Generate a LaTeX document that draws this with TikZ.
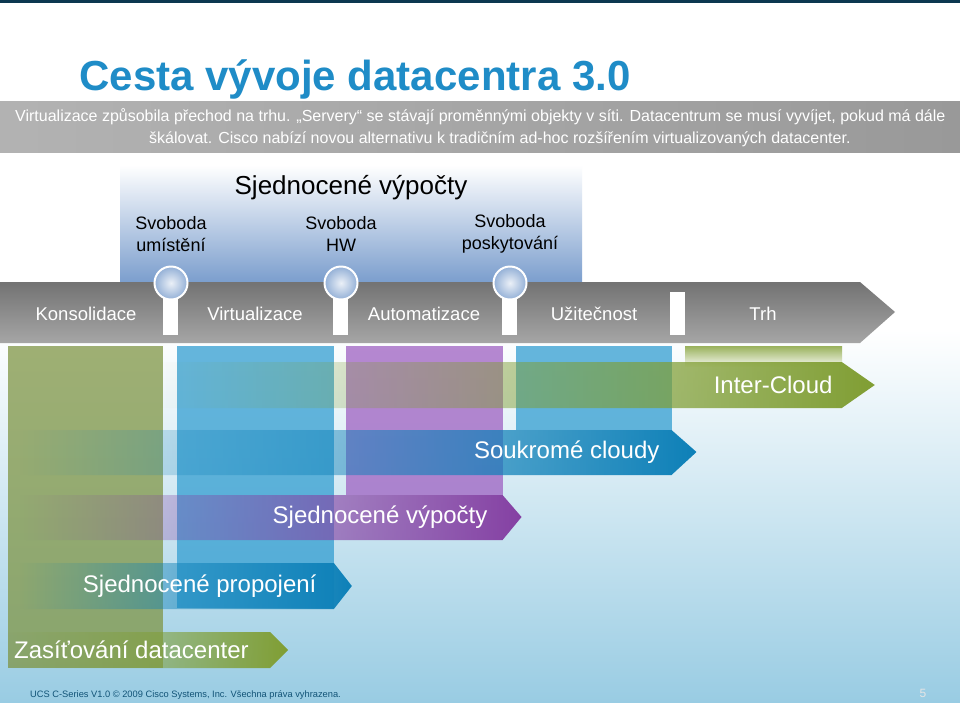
\documentclass[tikz,border=0pt]{standalone}
\usepackage{fontspec}
\setmainfont{Liberation Sans}
\usetikzlibrary{positioning,fadings,shapes.arrows}
\definecolor{ciscoblue}{rgb}{0.12,0.55,0.78}
\definecolor{olivegreen}{rgb}{0.50,0.62,0.20}
\definecolor{colblue}{rgb}{0.20,0.62,0.82}
\definecolor{colpurple}{rgb}{0.62,0.38,0.76}
\definecolor{arrblue}{rgb}{0.05,0.50,0.72}
\definecolor{arrpurple}{rgb}{0.52,0.25,0.64}
\definecolor{bgblue}{rgb}{0.60,0.80,0.89}
\definecolor{panelblue}{rgb}{0.47,0.61,0.80}
\tikzfading[name=fadein, left color=transparent!100, right color=transparent!0]
\tikzset{
  fsz/.style={font=\fontsize{#1}{#1}\selectfont},
  col/.style={fill=#1, opacity=0.75},
  stage/.style={fsz=18.5, text=white},
  band/.style={fsz=24, text=white, anchor=east},
  free/.style={font=\fontsize{18}{22}\selectfont, align=center},
  ring/.style={circle, minimum size=33pt, draw=white, line width=2pt, inner color=white!85!panelblue, outer color=panelblue!80, inner sep=0pt},
  slot/.style={fill=white},
}
\begin{document}
\begin{tikzpicture}[x=1pt,y=-1pt]
\useasboundingbox (0,0) rectangle (960,702);
% background
\shade[top color=white, bottom color=bgblue] (0,330) rectangle (960,702);
\fill[white] (0,3) rectangle (960,330);
\fill[ciscoblue!40!black] (0,0) rectangle (960,3);
\node[font=\bfseries\fontsize{42}{42}\selectfont, text=ciscoblue, anchor=base west] (title) at (76,90) {Cesta vývoje datacentra 3.0};
\shade[left color=gray!60, right color=gray!80] (0,101) rectangle (960,152);
\node[font=\fontsize{16}{22}\selectfont, text=white, align=left, anchor=north west, inner sep=0pt] (intro) at (15,108)
  {Virtualizace způsobila přechod na trhu. „Servery“ se stávají proměnnými objekty v síti. Datacentrum se musí vyvíjet, pokud má dále\\
   \hspace*{134pt}škálovat. Cisco nabízí novou alternativu k tradičním ad-hoc rozšířením virtualizovaných datacenter.};
% upper panel
\shade[top color=white, bottom color=panelblue] (120,165) rectangle (582,285);
\node[fsz=26] (sv) at (351,188) {Sjednocené výpočty};
\node[free] (f1) at (171,234) {Svoboda\\umístění};
\node[free] (f2) at (341,234) {Svoboda\\HW};
\node[free] (f3) at (510,234) {Svoboda\\poskytování};
% timeline
\shade[top color=gray!90!black, bottom color=gray!70] (0,282) -- (860,282) -- (895,312) -- (860,343) -- (0,343) -- cycle;
\foreach \x in {163,333,502,670} \fill[slot] (\x,292) rectangle ++(15,43);
\node[ring] (r1) at (171,283) {};
\node[ring] (r2) at (341,283) {};
\node[ring] (r3) at (510,283) {};
\node[stage] (s1) at (86,314) {Konsolidace};
\node[stage] (s2) at (255,314) {Virtualizace};
\node[stage] (s3) at (424,314) {Automatizace};
\node[stage] (s4) at (594,314) {Užitečnost};
\node[stage] (s5) at (763,314) {Trh};
% columns
\fill[col=olivegreen!75!gray] (8,346) rectangle (163,668);
\fill[col=colblue] (177,346) rectangle (334,608);
\fill[col=colpurple] (346,346) rectangle (503,495);
\fill[col=colblue] (516,346) rectangle (672,430);
\shade[top color=olivegreen!80, bottom color=olivegreen!10] (685,346) rectangle (842,366);
% arrows
\fill[olivegreen, path fading=fadein] (160,362) -- (842,362) -- (875,385) -- (842,408) -- (160,408) -- cycle;
\fill[arrblue, path fading=fadein] (20,430) -- (672,430) -- (697,452) -- (672,475) -- (20,475) -- cycle;
\fill[arrpurple, path fading=fadein] (20,495) -- (503,495) -- (522,517) -- (503,540) -- (20,540) -- cycle;
\fill[arrblue, path fading=fadein] (20,563) -- (334,563) -- (352,586) -- (334,609) -- (20,609) -- cycle;
\fill[olivegreen, path fading=fadein] (8,632) -- (270,632) -- (288,650) -- (270,668) -- (8,668) -- cycle;
\node[band] (a1) at (836,385) {Inter-Cloud};
\node[band] (a2) at (663,452) {Soukromé cloudy};
\node[band] (a3) at (491,517) {Sjednocené výpočty};
\node[band] (a4) at (320,586) {Sjednocené propojení};
\node[band, anchor=west, inner sep=0pt] (a5) at (14,650) {Zasíťování datacenter};
% footer
\node[fsz=9.3, text=ciscoblue!60!black, anchor=west, inner sep=0pt] (foot) at (30,695) {UCS C-Series V1.0 © 2009 Cisco Systems, Inc. Všechna práva vyhrazena.};
\node[fsz=12, text=white!80!gray] (page) at (923,693) {5};
\end{tikzpicture}
\end{document}
